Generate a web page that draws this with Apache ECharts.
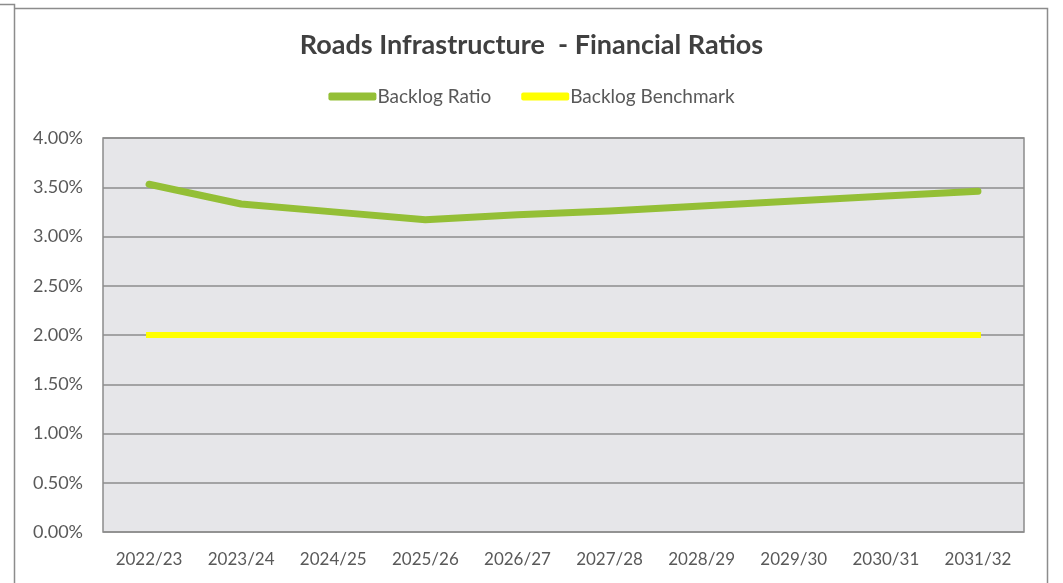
<!DOCTYPE html>
<html>
<head>
<meta charset="utf-8">
<script src="https://cdn.jsdelivr.net/npm/echarts@6/dist/echarts.min.js"></script>
<style>
  html, body { margin: 0; padding: 0; background: #fff; }
  #chart { width: 1063px; height: 583px; }
</style>
</head>
<body>
<div id="chart"></div>
<script>
(function() {
    const years = ['2022/23', '2023/24', '2024/25', '2025/26', '2026/27', '2027/28', '2028/29', '2029/30', '2030/31', '2031/32'];
    const backlogRatio = [3.53, 3.33, 3.25, 3.17, 3.22, 3.26, 3.31, 3.36, 3.41, 3.46];
    const backlogBenchmark = [2.00, 2.00, 2.00, 2.00, 2.00, 2.00, 2.00, 2.00, 2.00, 2.00];

    const FONT = 'Lato, "Open Sans", sans-serif';
    const myChart = echarts.init(document.getElementById('chart'));

    const option = {
        backgroundColor: '#fff',
        animation: false,
        title: {
            text: 'Roads Infrastructure  - Financial Ratios',
            left: 'center',
            top: 27,
            textStyle: { fontFamily: FONT, fontSize: 27, fontWeight: 'bold', color: '#404040' }
        },
        legend: {
            top: 82,
            left: 'center',
            itemWidth: 48,
            itemHeight: 8,
            itemGap: 30,
            icon: 'roundRect',
            textStyle: { fontFamily: FONT, fontSize: 19, color: '#595959', padding: [0, 0, 0, -4] },
            data: ['Backlog Ratio', 'Backlog Benchmark']
        },
        grid: { left: 103, right: 39, top: 138, bottom: 51, show: true, backgroundColor: '#e6e6e9', borderColor: '#8c8c8c', borderWidth: 1.5 },
        xAxis: {
            type: 'category',
            data: years,
            boundaryGap: true,
            axisLine: { show: false },
            axisTick: { show: false },
            axisLabel: { fontFamily: FONT, fontSize: 17, color: '#595959', margin: 19 }
        },
        yAxis: {
            type: 'value',
            min: 0,
            max: 4,
            interval: 0.5,
            axisLine: { show: false },
            axisTick: { show: false },
            splitLine: { lineStyle: { color: '#8c8c8c', width: 1.5 } },
            axisLabel: {
                fontFamily: FONT, fontSize: 18, color: '#595959', margin: 20,
                formatter: v => v.toFixed(2) + '%'
            }
        },
        series: [
            {
                name: 'Backlog Ratio',
                type: 'line',
                data: backlogRatio,
                symbol: 'none',
                lineStyle: { color: '#94bf36', width: 7, cap: 'round', join: 'round' },
                itemStyle: { color: '#94bf36' }
            },
            {
                name: 'Backlog Benchmark',
                type: 'line',
                data: backlogBenchmark,
                symbol: 'none',
                lineStyle: { color: '#ffff00', width: 6, cap: 'square' },
                itemStyle: { color: '#ffff00' }
            }
        ],
        graphic: [
            { type: 'polyline', shape: { points: [[0, 4.5], [14.5, 4.5], [14.5, 583]] }, style: { stroke: '#8c8c8c', lineWidth: 1.5, fill: null } },
            { type: 'polyline', shape: { points: [[14.5, 8.5], [1047.5, 8.5], [1047.5, 583]] }, style: { stroke: '#8c8c8c', lineWidth: 1.5, fill: null } }
        ]
    };

    myChart.setOption(option);
})();
</script>
</body>
</html>
